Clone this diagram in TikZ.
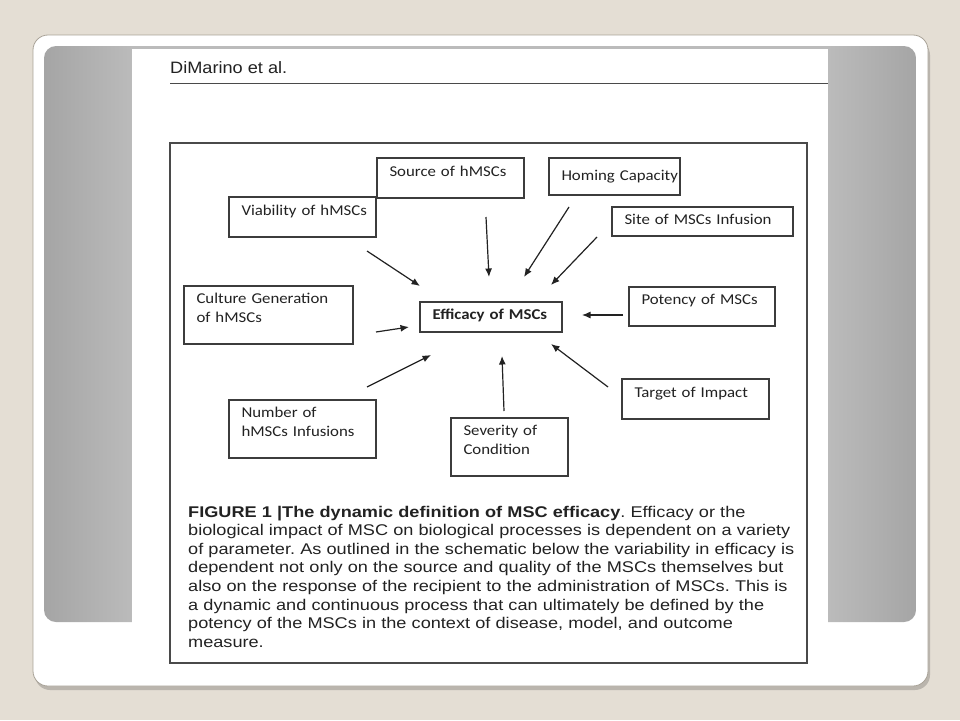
\documentclass[tikz,border=0pt]{standalone}
\usepackage{fontspec}
\setmainfont{Liberation Sans}
\newfontfamily\boxfont[FakeStretch=1.12]{Carlito}
\newfontfamily\capfont[FakeStretch=1.17]{Liberation Sans}
\newfontfamily\headfont[FakeStretch=1.1]{Liberation Sans}
\usetikzlibrary{arrows.meta}
\frenchspacing

\definecolor{slidebg}{HTML}{E4DED4}
\definecolor{cardline}{HTML}{A9A398}
\definecolor{panelDark}{HTML}{A5A5A5}
\definecolor{panelLight}{HTML}{BBBBBB}
\definecolor{rulegray}{HTML}{4A4A4A}
\definecolor{boxline}{HTML}{3C3C3C}
\definecolor{ink}{HTML}{222222}

\tikzset{
  param/.style={draw=boxline, line width=1.3pt, anchor=north west, align=left,
    inner xsep=12.5pt, inner ysep=0pt, outer sep=0pt, text=ink,
    font=\boxfont\fontsize{15}{18.5}\selectfont},
  flow/.style={-{Latex[length=8.5pt,width=7pt]}, line width=1.2pt, draw=ink},
}

\begin{document}
\begin{tikzpicture}[x=1pt, y=-1pt]
    % --- SLIDE ---
    \fill[slidebg] (0,0) rectangle (960,720);
    \useasboundingbox (0,0) rectangle (960,720);

    % Card and its shadow
    \fill[black, opacity=0.18, rounded corners=15pt] (35,40) rectangle (930,690);
    \filldraw[fill=white, draw=cardline, line width=0.8pt, rounded corners=15pt] (33,35) rectangle (928,686);

    % Gray panel behind the page
    \begin{scope}
        \clip[rounded corners=12pt] (44,46) rectangle (916,622);
        \shade[left color=panelDark, right color=panelLight] (44,46) rectangle (132,622);
        \shade[left color=panelLight, right color=panelDark] (828,46) rectangle (916,622);
        \fill[panelLight] (132,46) rectangle (828,49);
    \end{scope}

    % Page
    \fill[white] (132,49) rectangle (828,680);

    % =========================================
    % HEADER AND FRAME
    % =========================================
    \node[anchor=base west, inner sep=0pt, text=ink, font=\headfont\fontsize{16.5}{19}\selectfont] (author) at (170,73.5) {DiMarino et al.};
    \draw[rulegray, line width=1.4pt] (170,83.5) -- (828,83.5);
    \draw[rulegray, line width=1.3pt] (170,143) rectangle (807,663);

    % =========================================
    % PARAMETER BOXES
    % =========================================
    \node[param, text width=122pt, text height=18.5pt, text depth=21.5pt] (src) at (377,158) {\mbox{Source of hMSCs}};
    \node[param, text width=106pt, text height=22.5pt, text depth=14.5pt] (hom) at (549,158) {\mbox{Homing Capacity}};
    \node[param, text width=122pt, text height=18.5pt, text depth=21.5pt] (via) at (229,197) {\mbox{Viability of hMSCs}};
    \node[param, text width=156pt, text height=17.5pt, text depth=11.5pt] (site) at (612,207) {\mbox{Site of MSCs Infusion}};
    \node[param, text width=144pt, text height=17.5pt, text depth=40.5pt] (cul) at (184,286) {Culture Generation\\of hMSCs};
    \node[param, text width=117pt, text height=17.5pt, text depth=12.5pt] (eff) at (420,302) {\mbox{\bfseries Efficacy of MSCs}};
    \node[param, text width=121pt, text height=17.5pt, text depth=21.5pt] (pot) at (629,287) {\mbox{Potency of MSCs}};
    \node[param, text width=122pt, text height=18.5pt, text depth=21.5pt] (tgt) at (622,379) {\mbox{Target of Impact}};
    \node[param, text width=122pt, text height=17.5pt, text depth=40.5pt] (num) at (229,400) {Number of\\hMSCs Infusions};
    \node[param, text width=92pt, text height=17.5pt, text depth=40.5pt] (sev) at (451,418) {Severity of\\Condition};

    % Arrows towards the efficacy box
    \draw[flow] ([shift={(-9,14)}]via.south east) -- ([shift={(0,-16)}]eff.north west);
    \draw[flow] ([shift={(-38,19)}]src.south east) -- ([shift={(-2,-25)}]eff.north);
    \draw[flow] ([shift={(20,12)}]hom.south west) -- ([shift={(33,-25)}]eff.north);
    \draw[flow] ([shift={(-15,1)}]site.south west) -- ([shift={(-11,-17)}]eff.north east);
    \draw[flow] ([shift={(-6,8.5)}]pot.west) -- ([shift={(20,-2)}]eff.east);
    \draw[flow] ([shift={(23,17)}]cul.east) -- ([shift={(-11,10)}]eff.west);
    \draw[flow] ([shift={(-9,-13)}]num.north east) -- ([shift={(11,23)}]eff.south west);
    \draw[flow] ([shift={(-5.5,-7)}]sev.north) -- ([shift={(11,24)}]eff.south);
    \draw[flow] ([shift={(-14,8)}]tgt.north west) -- ([shift={(-11,12)}]eff.south east);

    % =========================================
    % CAPTION
    % =========================================
    \node[anchor=base west, inner sep=0pt, text width=640pt, align=left, text=ink,
          font=\capfont\fontsize{15.5}{18.6}\selectfont] (caption) at (188,517) {%
        \textbf{FIGURE 1 |The dynamic definition of MSC efficacy}. Efficacy or the\\
        biological impact of MSC on biological processes is dependent on a variety\\
        of parameter. As outlined in the schematic below the variability in efficacy is\\
        dependent not only on the source and quality of the MSCs themselves but\\
        also on the response of the recipient to the administration of MSCs. This is\\
        a dynamic and continuous process that can ultimately be defined by the\\
        potency of the MSCs in the context of disease, model, and outcome\\
        measure.};
\end{tikzpicture}
\end{document}
